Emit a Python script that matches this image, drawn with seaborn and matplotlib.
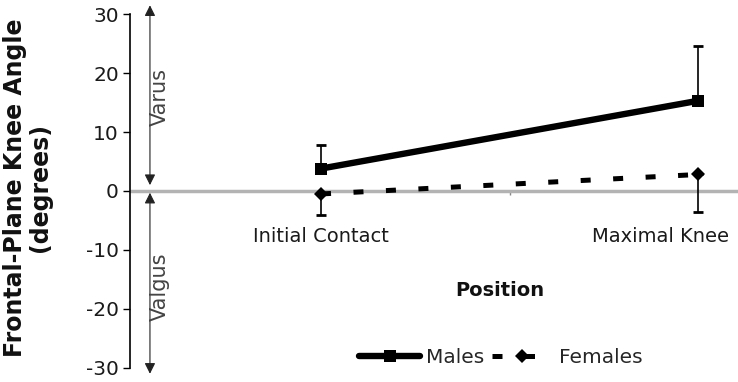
import matplotlib
matplotlib.use("Agg")
import matplotlib.pyplot as plt
import matplotlib.transforms as mtransforms
import seaborn as sns
import pandas as pd

positions = ["Initial Contact", "Maximal Knee"]
males_mean = [3.8, 15.3]
males_sd_up = [4.0, 9.3]
females_mean = [-0.5, 2.8]
females_sd_down = [3.5, 6.4]
y_ticks = [-30, -20, -10, 0, 10, 20, 30]

males_df = pd.DataFrame({"Position": positions, "Angle": males_mean})
females_df = pd.DataFrame({"Position": positions, "Angle": females_mean})

sns.set_theme(style="white")
plt.rcParams["font.family"] = ["DejaVu Sans"]

fig = plt.figure(figsize=(7.38, 3.82), dpi=100)
ax = fig.add_axes([0.176, 0.037, 0.824, 0.926])

ax.axhline(0, color="#b3b3b3", lw=2.5, zorder=1)

sns.lineplot(data=males_df, x="Position", y="Angle", color="black", marker="s",
             markersize=8, markeredgewidth=0, linewidth=4.6, ax=ax, label="Males", zorder=3)
sns.lineplot(data=females_df, x="Position", y="Angle", color="black", marker="D",
             markersize=7, markeredgewidth=0, linewidth=3.6, linestyle=(0, (2.0, 4.5)),
             ax=ax, label="Females", zorder=3)

xs = list(range(len(positions)))
ax.errorbar(xs, males_mean, yerr=[[0] * len(xs), males_sd_up], fmt="none",
            ecolor="black", elinewidth=1.2, capsize=3.8, capthick=2, zorder=2)
ax.errorbar(xs, females_mean, yerr=[females_sd_down, [0] * len(xs)], fmt="none",
            ecolor="black", elinewidth=1.2, capsize=3.8, capthick=2, zorder=2)

ax.set_xlim(-0.507, 1.106)
ax.set_ylim(-30, 30)
ax.set_yticks(y_ticks)
ax.set_yticklabels([str(v) for v in y_ticks], fontsize=14.5, color="#1a1a1a")
ax.tick_params(axis="y", direction="out", length=5, width=1, color="black", left=True, pad=3)

for s in ["top", "right"]:
    ax.spines[s].set_visible(False)
ax.spines["bottom"].set_position(("data", 0))
ax.spines["bottom"].set_visible(False)
ax.spines["left"].set_color("black")
ax.spines["left"].set_linewidth(1.2)

# category labels (second one shifted left so it stays inside the figure, as in the reference)
label_pos = [xs[0], xs[1] - 0.1]
ax.set_xticks(label_pos)
ax.set_xticklabels(positions, fontsize=14, color="#1a1a1a")
ax.tick_params(axis="x", length=0, pad=26)
ax.set_xticks([0.5], minor=True)
ax.tick_params(axis="x", which="minor", length=3, width=1, color="#888888", bottom=True,
               direction="out")

ax.set_xlabel("Position", fontsize=14, fontweight="bold", color="#111111")
ax.xaxis.set_label_coords(0.609, 0.245)
ax.set_ylabel("Frontal-Plane Knee Angle\n(degrees)", fontsize=17, fontweight="bold",
              color="#111111", linespacing=1.05)
ax.yaxis.set_label_coords(-0.128, 0.51)

trans = mtransforms.blended_transform_factory(ax.transAxes, ax.transData)
arrowprops = dict(arrowstyle="<|-|>", color="#222222", lw=0.8, mutation_scale=16,
                  shrinkA=0, shrinkB=0)
ax.annotate("", xy=(0.033, 31.5), xytext=(0.033, 1.0), xycoords=trans, textcoords=trans,
            arrowprops=arrowprops, annotation_clip=False)
ax.annotate("", xy=(0.033, -31.0), xytext=(0.033, -0.3), xycoords=trans, textcoords=trans,
            arrowprops=arrowprops, annotation_clip=False)
ax.text(0.049, 15.9, "Varus", rotation=90, transform=trans, fontsize=15,
        color="#444444", ha="center", va="center")
ax.text(0.049, -16.3, "Valgus", rotation=90, transform=trans, fontsize=15,
        color="#444444", ha="center", va="center")

leg = ax.legend(loc="center", bbox_to_anchor=(0.61, 0.03), ncol=2, frameon=False,
                fontsize=14.5, handlelength=3.0, columnspacing=0.4, handletextpad=0.3,
                borderaxespad=0)

fig.savefig("out.png", dpi=100)
